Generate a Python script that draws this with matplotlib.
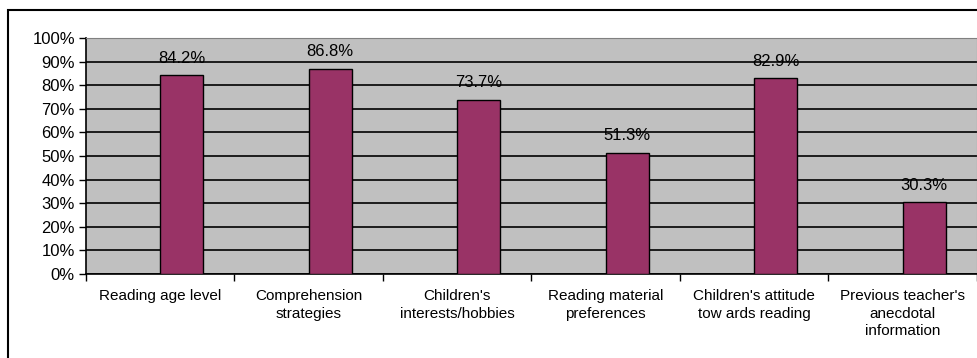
"""
Bar chart of reading information sources, Excel-like styling
"""
import numpy as np
import matplotlib.pyplot as plt
from matplotlib.patches import Rectangle

plt.rcParams["font.family"] = ["Liberation Sans", "DejaVu Sans"]

categories = [
    "Reading age level",
    "Comprehension\nstrategies",
    "Children's\ninterests/hobbies",
    "Reading material\npreferences",
    "Children's attitude\ntow ards reading",
    "Previous teacher's\nanecdotal\ninformation",
]
values = [84.2, 86.8, 73.7, 51.3, 82.9, 30.3]
yticks = list(range(0, 101, 10))

BAR_COLOR = "#993366"
PLOT_BG = "#c0c0c0"
BAR_W = 0.29

fig = plt.figure(figsize=(9.78, 3.58), dpi=100)
ax = fig.add_axes([86 / 978, 1 - 274 / 358, (977 - 86) / 978, (274 - 38) / 358])
ax.set_facecolor(PLOT_BG)

x = np.arange(len(categories))
# bars sit just right of the category centre (Excel group slot)
ax.bar(x, values, width=BAR_W, align="edge", color=BAR_COLOR,
       edgecolor="black", linewidth=1, zorder=3)

for xi, v in zip(x, values):
    ax.annotate("{:.1f}%".format(v), xy=(xi + BAR_W / 2, v), xytext=(0, 7),
                textcoords="offset points", ha="center", va="bottom",
                fontsize=12, zorder=4)

ax.set_xlim(-0.5, len(categories) - 0.5)
ax.set_ylim(0, 100)
ax.set_yticks(yticks)
ax.set_yticklabels(["{}%".format(t) for t in yticks], fontsize=12)
ax.yaxis.grid(True, color="black", linewidth=1.2, zorder=1)
ax.set_axisbelow(True)

# category labels centred, tick marks between categories
ax.set_xticks(x)
ax.set_xticklabels(categories, fontsize=11, linespacing=1.3)
ax.tick_params(axis="x", length=0, pad=11)
ax.set_xticks(np.arange(len(categories) + 1) - 0.5, minor=True)
ax.tick_params(axis="x", which="minor", length=5, width=1, direction="out")
ax.tick_params(axis="y", length=5, width=1, direction="out", pad=3)

for side in ["top", "right"]:
    ax.spines[side].set_color("#808080")
ax.spines["left"].set_color("black")
ax.spines["bottom"].set_color("black")
ax.spines["left"].set_linewidth(1.2)
ax.spines["bottom"].set_linewidth(1.2)

# outer chart border (clipped on right and bottom)
fig.patches.append(Rectangle((8 / 978, -0.2), 1.2, 1.2 - 9.5 / 358,
                             transform=fig.transFigure, fill=False,
                             edgecolor="black", linewidth=1.5))

fig.savefig("out.png", dpi=100)
